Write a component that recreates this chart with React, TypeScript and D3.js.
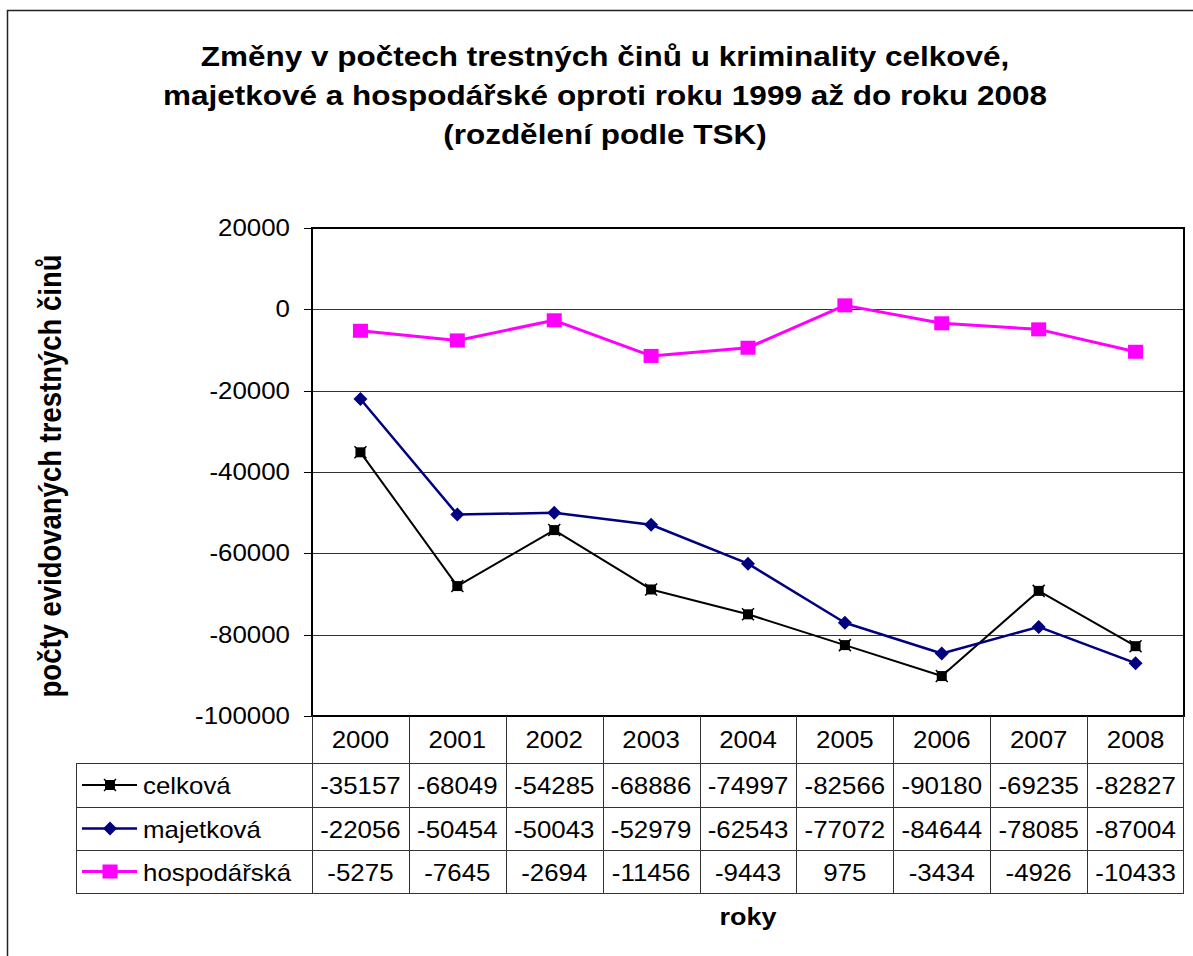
import React from "react";
import * as d3 from "d3";

// values
const years = ["2000", "2001", "2002", "2003", "2004", "2005", "2006", "2007", "2008"];
const celkova = [-35157, -68049, -54285, -68886, -74997, -82566, -90180, -69235, -82827];
const majetkova = [-22056, -50454, -50043, -52979, -62543, -77072, -84644, -78085, -87004];
const hospodarska = [-5275, -7645, -2694, -11456, -9443, 975, -3434, -4926, -10433];
const seriesNames = ["celková", "majetková", "hospodářská"];
const titleLines = [
  "Změny v počtech trestných činů u kriminality celkové,",
  "majetkové a hospodářské oproti roku 1999 až do roku 2008",
  "(rozdělení podle TSK)",
];

const W = 1193;
const H = 956;
const SX = 1.125; // the source picture is stretched sideways
const FONT = "'Liberation Sans', Arial, sans-serif";

const plot = { left: 312, right: 1184, top: 228, bottom: 716 };
const rowH = [716, 763, 807, 850, 893];
const tableLeft = 76;

function T({ x, y, size, bold, anchor, rot, children }: any) {
  return (
    <text
      transform={`translate(${x},${y}) scale(${SX},1)${rot ? ` rotate(${rot})` : ""}`}
      fontSize={size}
      fontWeight={bold ? "bold" : "normal"}
      textAnchor={anchor || "start"}
      fontFamily={FONT}
      fill="#000"
    >
      {children}
    </text>
  );
}

function Marker({ kind, x, y }: any) {
  if (kind === 0) {
    return (
      <g>
        <rect x={x - 5} y={y - 5} width={10} height={10} fill="#000" />
        <path d={`M${x - 6},${y - 6}L${x + 6},${y + 6}M${x + 6},${y - 6}L${x - 6},${y + 6}`} stroke="#000" strokeWidth={1.5} />
      </g>
    );
  }
  if (kind === 1) {
    return <path d={`M${x},${y - 7}L${x + 7},${y}L${x},${y + 7}L${x - 7},${y}Z`} fill="#000080" />;
  }
  return <rect x={x - 7.5} y={y - 7} width={15} height={14} fill="#FF00FF" />;
}

export default function App() {
  const data = [celkova, majetkova, hospodarska];
  const colors = ["#000000", "#000080", "#FF00FF"];
  const widths = [2, 2.5, 3];

  const x = d3.scaleBand<string>().domain(years).range([plot.left, plot.right]);
  const cx = (yr: string) => (x(yr) as number) + x.bandwidth() / 2;
  const y = d3.scaleLinear().domain([-100000, 20000]).range([plot.bottom, plot.top]);
  const ticks = y.ticks(6);

  const line = d3
    .line<number>()
    .x((_, i) => cx(years[i]))
    .y((d) => y(d));

  return (
    <svg width={W} height={H} style={{ position: "absolute", left: 0, top: 0, background: "#fff" }}>
      <rect x={0} y={0} width={W} height={H} fill="#fff" />
      {/* outer chart border */}
      <path d={`M7.5,${H + 5}V10.5H${W + 5}`} fill="none" stroke="#222" strokeWidth={1.5} />

      {titleLines.map((t, i) => (
        <T key={i} x={605} y={66 + i * 39} size={28} bold anchor="middle">
          {t}
        </T>
      ))}

      {/* gridlines */}
      {ticks.map((t) => (
        <g key={t}>
          <line x1={plot.left} x2={plot.right} y1={Math.round(y(t)) + 0.5} y2={Math.round(y(t)) + 0.5} stroke="#333" strokeWidth={1} />
          <line x1={plot.left - 8} x2={plot.left} y1={Math.round(y(t)) + 0.5} y2={Math.round(y(t)) + 0.5} stroke="#000" strokeWidth={1} />
          <T x={290} y={y(t) + 8} size={23} anchor="end">
            {t}
          </T>
        </g>
      ))}

      {/* plot border */}
      <rect x={plot.left} y={plot.top} width={plot.right - plot.left} height={plot.bottom - plot.top} fill="none" stroke="#000" strokeWidth={2} />

      <T x={61} y={(plot.top + plot.bottom) / 2 + 4} size={27.5} bold anchor="middle" rot={-90}>
        počty evidovaných trestných činů
      </T>

      {/* series */}
      {data.map((vals, s) => (
        <g key={s}>
          <path d={line(vals) as string} fill="none" stroke={colors[s]} strokeWidth={widths[s]} strokeLinejoin="round" />
          {vals.map((v, i) => (
            <Marker key={i} kind={s} x={cx(years[i])} y={y(v)} />
          ))}
        </g>
      ))}

      {/* data table */}
      <g stroke="#333" strokeWidth={1} fill="none">
        {rowH.slice(1).map((r) => (
          <line key={r} x1={tableLeft} x2={plot.right} y1={r + 0.5} y2={r + 0.5} />
        ))}
        <line x1={tableLeft + 0.5} x2={tableLeft + 0.5} y1={rowH[1]} y2={rowH[4]} />
        {years.map((yr) => (
          <line key={yr} x1={Math.round(x(yr) as number) + 0.5} x2={Math.round(x(yr) as number) + 0.5} y1={rowH[0]} y2={rowH[4]} />
        ))}
        <line x1={plot.right - 0.5} x2={plot.right - 0.5} y1={rowH[0]} y2={rowH[4]} />
      </g>
      {years.map((yr) => (
        <T key={yr} x={cx(yr)} y={(rowH[0] + rowH[1]) / 2 + 8} size={23} anchor="middle">
          {yr}
        </T>
      ))}
      {data.map((vals, s) => {
        const mid = (rowH[s + 1] + rowH[s + 2]) / 2;
        return (
          <g key={s}>
            <line x1={82} x2={137} y1={mid} y2={mid} stroke={colors[s]} strokeWidth={widths[s]} />
            <Marker kind={s} x={110} y={mid} />
            <T x={143} y={mid + 9} size={23}>
              {seriesNames[s]}
            </T>
            {vals.map((v, i) => (
              <T key={i} x={cx(years[i])} y={mid + 9} size={23} anchor="middle">
                {v}
              </T>
            ))}
          </g>
        );
      })}

      <T x={748} y={925} size={24} bold anchor="middle">
        roky
      </T>
    </svg>
  );
}
